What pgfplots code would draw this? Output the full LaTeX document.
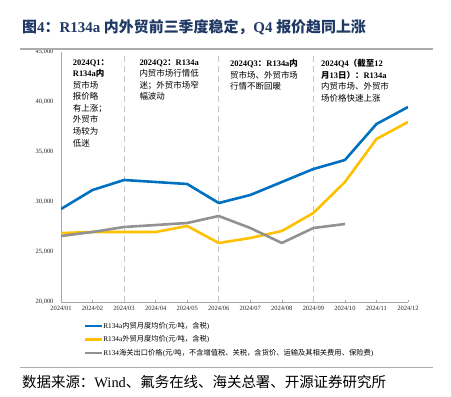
\documentclass[border=0pt]{standalone}
\usepackage{fontspec}
\setmainfont{Liberation Serif}
\newfontfamily\cjk{Noto Sans CJK SC}
\usepackage{pgfplots}
\pgfplotsset{compat=1.18}
\XeTeXinterchartokenstate=1
\newXeTeXintercharclass\CJKcls
\count255="3000
\loop \XeTeXcharclass\count255=\CJKcls \advance\count255 by 1 \ifnum\count255<"3040 \repeat
\count255="4E00
\loop \XeTeXcharclass\count255=\CJKcls \advance\count255 by 1 \ifnum\count255<"A000 \repeat
\count255="FF00
\loop \XeTeXcharclass\count255=\CJKcls \advance\count255 by 1 \ifnum\count255<"FFF0 \repeat
\XeTeXinterchartoks 0 \CJKcls = {\cjk}
\XeTeXinterchartoks 4095 \CJKcls = {\cjk}
\XeTeXinterchartoks \CJKcls 0 = {\rmfamily}
\XeTeXinterchartoks \CJKcls 4095 = {\rmfamily}
\definecolor{cblue}{HTML}{0070C0}
\definecolor{cyel}{HTML}{FFC000}
\definecolor{cgray}{HTML}{929292}
\definecolor{ctitle}{HTML}{1F3864}
\pgfplotstableread{
x blue yel
0 29300 26900
1 31200 27000
2 32200 27000
3 32000 27000
4 31800 27600
5 29900 25900
6 30700 26400
7 32000 27100
8 33300 28900
9 34200 32000
10 37800 36300
11 39500 38000
}\domtab
\pgfplotstableread{
x gray
0 26600
1 27000
2 27500
3 27700
4 27900
5 28600
6 27400
7 25900
8 27400
9 27800
}\exptab
\begin{document}
\begin{tikzpicture}[x=1bp,y=1bp]
\path (0,0) rectangle (451,396);
\begin{axis}[
  at={(61bp,94bp)}, anchor=south west,
  scale only axis, width=347bp, height=250bp,
  xmin=0, xmax=11, ymin=20000, ymax=45000,
  axis x line*=bottom, axis y line*=left,
  axis line style={gray!70, line width=0.6bp},
  xtick={0,...,11},
  xticklabels={2024/01,2024/02,2024/03,2024/04,2024/05,2024/06,2024/07,2024/08,2024/09,2024/10,2024/11,2024/12},
  ytick={20000,25000,30000,35000,40000,44999.9},
  yticklabels={{20,000},{25,000},{30,000},{35,000},{40,000},{45,000}},
  scaled y ticks=false,
  ticklabel style={font=\fontsize{6.5}{7.5}\selectfont, text=black!85},
  x tick style={gray!70, line width=0.5bp},
  major tick length=2.5bp,
  tick align=inside,
  y tick style={draw=none},
  yticklabel style={xshift=-4bp},
  xticklabel style={yshift=-1bp},
  legend style={at={(axis description cs:0.055,-0.07)}, anchor=north west, draw=none, fill=none,
     font=\fontsize{7.3}{8.5}\selectfont, row sep=4.6bp, nodes={inner sep=0.6bp}},
  legend cell align=left,
  legend image code/.code={\draw[#1, line width=2.5bp] (0bp,0bp)--(17bp,0bp);},
  every axis plot/.append style={line join=round},
]
\addplot[forget plot, draw=gray!45, line width=0.8bp, dash pattern=on 6bp off 4bp] coordinates {(2,20000) (2,44700)};
\addplot[forget plot, draw=gray!45, line width=0.8bp, dash pattern=on 6bp off 4bp] coordinates {(5,20000) (5,44700)};
\addplot[forget plot, draw=gray!45, line width=0.8bp, dash pattern=on 6bp off 4bp] coordinates {(8,20000) (8,44700)};
\addplot[cblue, line width=2.6bp, mark=none] table[x=x, y=blue] {\domtab};
\addlegendentry{R134a内贸月度均价(元/吨，含税)}
\addplot[cyel, line width=2.6bp, mark=none] table[x=x, y=yel] {\domtab};
\addlegendentry{R134a外贸月度均价(元/吨，含税)}
\addplot[cgray, line width=2.6bp, mark=none] table[x=x, y=gray] {\exptab};
\addlegendentry{R134海关出口价格(元/吨，不含增值税、关税，含货价、运输及其相关费用、保险费)}
\end{axis}
\begin{scope}[every node/.style={anchor=north west, inner sep=0pt, align=left, font=\fontsize{8.5}{11.6}\selectfont}]
\node at (72.7,336.7) {\textbf{2024Q1：}\\\textbf{R134a内}\\贸市场\\报价略\\有上涨；\\外贸市\\场较为\\低迷};
\node at (139.3,336.7) {\textbf{2024Q2：R134a}\\内贸市场行情低\\迷；外贸市场窄\\幅波动};
\node at (230,336.7) {\textbf{2024Q3：R134a内}\\贸市场、外贸市场\\行情不断回暖};
\node at (321,336.7) {\textbf{2024Q4（截至12}\\\textbf{月13日）：R134a}\\内贸市场、外贸市\\场价格快速上涨};
\end{scope}
\node[anchor=west, inner sep=0pt, text=ctitle, font=\fontsize{15}{18}\selectfont\bfseries] at (22,369) {图4：R134a 内外贸前三季度稳定，Q4 报价趋同上涨};
\draw[gray!65, line width=1.3bp] (20,347)--(433,347);
\draw[gray!65, line width=1.3bp] (20,28.3)--(433,28.3);
\node[anchor=west, inner sep=0pt, font=\fontsize{14.5}{16}\selectfont] at (22,14.3) {数据来源：Wind、氟务在线、海关总署、开源证券研究所};
\end{tikzpicture}
\end{document}
